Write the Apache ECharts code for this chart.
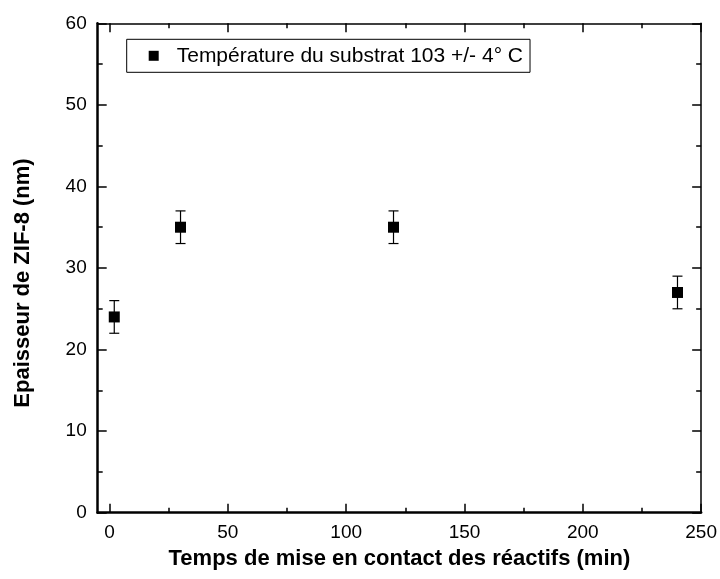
<!DOCTYPE html>
<html>
<head>
<meta charset="utf-8">
<script src="https://cdn.jsdelivr.net/npm/echarts@6/dist/echarts.min.js"></script>
<style>
  html, body { margin: 0; padding: 0; background: #fff; }
  #main { width: 720px; height: 579px; }
</style>
</head>
<body>
<div id="main"></div>
<script>
// données
var tempsMin = [2, 30, 120, 240];
var epaisseur = [24, 35, 35, 27];
var erreur = [2, 2, 2, 2];
var xMajorTicks = [0, 50, 100, 150, 200, 250];
var xMinorTicks = [25, 75, 125, 175, 225];
var serieName = 'Température du substrat 103 +/- 4° C';

var myEchart = echarts.init(document.getElementById('main'));
var font = 'Liberation Sans, Arial, sans-serif';

var points = tempsMin.map(function (t, i) { return [t, epaisseur[i]]; });
var barres = tempsMin.map(function (t, i) {
  return [t, epaisseur[i] - erreur[i], epaisseur[i] + erreur[i]];
});

// un axe x par jeu de ticks (majeurs / mineurs, bas / haut)
function xAxe(pos, ticks, len, labels, lineW) {
  return {
    type: 'value',
    position: pos,
    min: -5,
    max: 250,
    axisLine: { show: lineW > 0, onZero: false, lineStyle: { color: '#000', width: lineW } },
    axisTick: { show: true, inside: true, length: len, customValues: ticks,
      lineStyle: { color: '#000', width: 1.5 } },
    axisLabel: { show: labels, customValues: ticks, color: '#000', fontSize: 19,
      fontFamily: font, margin: 11 },
    splitLine: { show: false }
  };
}

var xAxes = [
  xAxe('bottom', xMajorTicks, 9, true, 2.5),
  xAxe('bottom', xMinorTicks, 5, false, 0),
  xAxe('top', xMajorTicks, 9, false, 1.5),
  xAxe('top', xMinorTicks, 5, false, 0)
];
xAxes[0].name = 'Temps de mise en contact des réactifs (min)';
xAxes[0].nameLocation = 'middle';
xAxes[0].nameGap = 33;
xAxes[0].nameTextStyle = { color: '#000', fontSize: 22, fontWeight: 'bold', fontFamily: font };

function yAxe(pos, lineW, labels) {
  return {
    type: 'value',
    position: pos,
    min: 0,
    max: 60,
    interval: 10,
    axisLine: { show: true, onZero: false, lineStyle: { color: '#000', width: lineW } },
    axisTick: { show: true, inside: true, length: 9, lineStyle: { color: '#000', width: 1.5 } },
    minorTick: { show: true, splitNumber: 2, length: 5, lineStyle: { color: '#000', width: 1.5 } },
    axisLabel: { show: labels, color: '#000', fontSize: 19, fontFamily: font, margin: 11 },
    splitLine: { show: false }
  };
}
var yAxes = [yAxe('left', 2.5, true), yAxe('right', 1.5, false)];
yAxes[0].name = 'Epaisseur de ZIF-8 (nm)';
yAxes[0].nameLocation = 'middle';
yAxes[0].nameGap = 64;
yAxes[0].nameTextStyle = { color: '#000', fontSize: 22, fontWeight: 'bold', fontFamily: font,
  padding: [0, 30, 0, 0] };

var option = {
  animation: false,
  grid: { left: 97.7, right: 16.5, top: 23.3, bottom: 66.3, containLabel: false },
  legend: {
    data: [{ name: serieName, icon: 'rect' }],
    left: 126.7,
    top: 39.3,
    itemWidth: 10,
    itemHeight: 10,
    itemGap: 0,
    padding: [6, 7, 6, 22],
    borderColor: '#000',
    borderWidth: 1,
    textStyle: { color: '#000', fontSize: 21, fontFamily: font, padding: [0, 0, 0, 13] }
  },
  xAxis: xAxes,
  yAxis: yAxes,
  series: [
    {
      name: 'erreur',
      type: 'custom',
      xAxisIndex: 0,
      yAxisIndex: 0,
      renderItem: function (params, api) {
        var x = api.value(0);
        var bas = api.coord([x, api.value(1)]);
        var haut = api.coord([x, api.value(2)]);
        var demi = 5;
        var style = { stroke: '#000', lineWidth: 1.2 };
        return {
          type: 'group',
          children: [
            { type: 'line', shape: { x1: bas[0], y1: bas[1], x2: haut[0], y2: haut[1] }, style: style },
            { type: 'line', shape: { x1: bas[0] - demi, y1: bas[1], x2: bas[0] + demi, y2: bas[1] }, style: style },
            { type: 'line', shape: { x1: haut[0] - demi, y1: haut[1], x2: haut[0] + demi, y2: haut[1] }, style: style }
          ]
        };
      },
      data: barres,
      z: 2
    },
    {
      name: serieName,
      type: 'scatter',
      xAxisIndex: 0,
      yAxisIndex: 0,
      symbol: 'rect',
      symbolSize: 11,
      itemStyle: { color: '#000', opacity: 1 },
      data: points,
      z: 3
    }
  ]
};
myEchart.setOption(option);
</script>
</body>
</html>
